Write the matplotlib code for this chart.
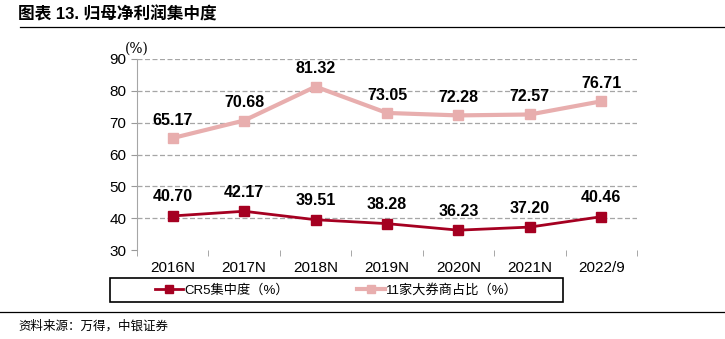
import matplotlib
matplotlib.use("Agg")
import matplotlib.pyplot as plt
from matplotlib.lines import Line2D
from matplotlib.patches import Rectangle

plt.rcParams['font.family'] = ['Liberation Sans', 'Noto Sans CJK SC', 'DejaVu Sans']

YEARS = ["2016N", "2017N", "2018N", "2019N", "2020N", "2021N", "2022/9"]
CR5 = [40.70, 42.17, 39.51, 38.28, 36.23, 37.20, 40.46]
TOP11 = [65.17, 70.68, 81.32, 73.05, 72.28, 72.57, 76.71]

DARK_RED = "#A50021"
PINK = "#E8AEAE"

W, H = 725, 339
fig = plt.figure(figsize=(W / 100, H / 100), dpi=100)
ax = fig.add_axes([137 / W, 1 - 250 / H, 500 / W, 191 / H])

x = range(len(YEARS))
ax.plot(x, TOP11, color=PINK, lw=3, marker="s", ms=7, zorder=3)
ax.plot(x, CR5, color=DARK_RED, lw=2, marker="s", ms=7, zorder=4)

for i, v in enumerate(TOP11):
    ax.text(i, v + 3.2, f"{v:.2f}", ha="center", va="bottom",
            fontsize=11.5, fontweight="bold")
for i, v in enumerate(CR5):
    ax.text(i, v + 3.6, f"{v:.2f}", ha="center", va="bottom",
            fontsize=11.5, fontweight="bold")

ax.set_xlim(-0.5, len(YEARS) - 0.5)
ax.set_ylim(30, 90)
ax.set_yticks(range(30, 91, 10))
ax.set_xticks(x)
ax.set_xticklabels(YEARS)
ax.set_xticks([i - 0.5 for i in range(len(YEARS) + 1)], minor=True)
ax.tick_params(axis="x", which="major", length=0, labelsize=11, pad=8)
ax.tick_params(axis="x", which="minor", length=4, color="#999999")
ax.tick_params(axis="y", labelsize=11, length=4, color="#999999")

for y in range(40, 91, 10):
    ax.axhline(y, color="#A6A6A6", lw=0.9, ls=(0, (4, 2)), zorder=1)

for side in ["top", "right", "bottom"]:
    ax.spines[side].set_visible(False)
ax.spines["left"].set_color("#A6A6A6")

# unit label above the y axis
fig.text(137 / W, 1 - 49 / H, "(%)", ha="center", va="center",
         fontsize=10, family=["DejaVu Serif"])

# legend: frameless entries inside a hand-drawn box
fig.add_artist(Rectangle((110 / W, 1 - 302 / H), 453 / W, 24 / H,
                         transform=fig.transFigure, fill=False,
                         edgecolor="black", lw=1.2))
handles = [
    Line2D([], [], color=DARK_RED, lw=2, marker="s", ms=6),
    Line2D([], [], color=PINK, lw=3, marker="s", ms=6),
]
fig.legend(handles, ["CR5集中度（%）", "11家大券商占比（%）"],
           loc="center", bbox_to_anchor=((110 + 563) / 2 / W, 1 - 290 / H),
           ncol=2, frameon=False, fontsize=9.5,
           handlelength=2.1, handletextpad=0.1, columnspacing=5.2)

fig.text(18 / W, 1 - 14 / H, "图表 13. 归母净利润集中度", ha="left",
         va="center", fontsize=12, fontweight="bold")
fig.add_artist(Line2D([20 / W, 1], [1 - 27 / H] * 2, color="black", lw=0.9))
fig.add_artist(Line2D([0, 1], [1 - 312 / H] * 2, color="black", lw=0.9))
fig.text(18 / W, 1 - 326 / H, "资料来源：万得，中银证券", ha="left",
         va="center", fontsize=9, style="italic")

fig.savefig("out.png", dpi=100)
